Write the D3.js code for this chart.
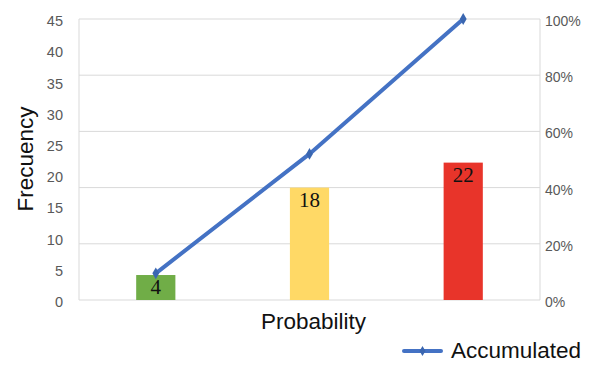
<!DOCTYPE html>
<html>
<head>
<meta charset="utf-8">
<script src="https://cdn.jsdelivr.net/npm/d3@7"></script>
<style>
  body { margin: 0; background: #fff; }
  svg { display: block; font-family: "Liberation Sans", Arial, sans-serif; }
</style>
</head>
<body>
<div id="chart"></div>
<script>
// bars = frequency per probability class, line = accumulated percentage
const categories = ["Low", "Medium", "High"];
const frequency = [4, 18, 22];
const accumulated = [9.5, 52, 100];
const barColors = ["#70ad47", "#ffd966", "#e8342a"];
const leftTicks = [0, 5, 10, 15, 20, 25, 30, 35, 40, 45];
const rightTicks = [0, 20, 40, 60, 80, 100];

var width = 612, height = 370;
var margin = {top: 19, right: 72, bottom: 70, left: 79};

const svg = d3.select("#chart")
    .append("svg")
    .attr("width", width)
    .attr("height", height);

const xScale = d3.scaleBand()
    .domain(categories)
    .range([margin.left, width - margin.right])
    .paddingInner(0.745)
    .paddingOuter(0.372);

const yScale = d3.scaleLinear()
    .domain([0, 45])
    .range([height - margin.bottom, margin.top]);

const pctScale = d3.scaleLinear()
    .domain([0, 100])
    .range([height - margin.bottom, margin.top]);

// gridlines follow the right axis
svg.append("g")
    .selectAll("line")
    .data(rightTicks)
    .enter()
    .append("line")
    .attr("x1", margin.left)
    .attr("x2", width - margin.right)
    .attr("y1", d => pctScale(d))
    .attr("y2", d => pctScale(d))
    .attr("stroke", "#d9d9d9")
    .attr("stroke-width", 1);

// side borders of the plot area
[margin.left, width - margin.right].forEach(function(x) {
    svg.append("line")
        .attr("x1", x).attr("x2", x)
        .attr("y1", margin.top).attr("y2", height - margin.bottom)
        .attr("stroke", "#d9d9d9");
});

// left axis
svg.append("g")
    .attr("transform", `translate(${margin.left - 16}, 2)`)
    .call(d3.axisLeft(yScale).tickValues(leftTicks).tickSize(0).tickPadding(0))
    .call(g => g.select(".domain").remove())
    .selectAll("text")
    .attr("fill", "#595959")
    .style("font-size", "14.5px");

// right axis
svg.append("g")
    .attr("transform", `translate(${width - margin.right + 5}, 2)`)
    .call(d3.axisRight(pctScale).tickValues(rightTicks).tickFormat(d => d + "%").tickSize(0).tickPadding(0))
    .call(g => g.select(".domain").remove())
    .selectAll("text")
    .attr("fill", "#595959")
    .style("font-size", "14px");

// bars
svg.selectAll("rect.bar")
    .data(frequency)
    .enter()
    .append("rect")
    .attr("class", "bar")
    .attr("x", (d, i) => xScale(categories[i]))
    .attr("y", d => yScale(d))
    .attr("width", xScale.bandwidth())
    .attr("height", d => yScale(0) - yScale(d))
    .attr("fill", (d, i) => barColors[i]);

svg.selectAll("text.barLabel")
    .data(frequency)
    .enter()
    .append("text")
    .attr("class", "barLabel")
    .attr("x", (d, i) => xScale(categories[i]) + xScale.bandwidth() / 2)
    .attr("y", d => yScale(d) + 19)
    .attr("text-anchor", "middle")
    .style("font-family", "'Liberation Serif', 'Times New Roman', serif")
    .style("font-size", "21px")
    .attr("fill", "#111")
    .text(d => d);

// accumulated line
var line = d3.line()
    .x((d, i) => xScale(categories[i]) + xScale.bandwidth() / 2)
    .y(d => pctScale(d));

svg.append("path")
    .datum(accumulated)
    .attr("d", line)
    .attr("fill", "none")
    .attr("stroke", "#4472c4")
    .attr("stroke-width", 4)
    .attr("stroke-linecap", "round");

svg.selectAll("path.marker")
    .data(accumulated)
    .enter()
    .append("path")
    .attr("class", "marker")
    .attr("d", d3.symbol().type(d3.symbolDiamond).size(40))
    .attr("transform", (d, i) => `translate(${xScale(categories[i]) + xScale.bandwidth() / 2}, ${pctScale(d)})`)
    .attr("fill", "#3a66b0");

// axis titles
svg.append("text")
    .attr("transform", `translate(33, 159) rotate(-90)`)
    .attr("text-anchor", "middle")
    .style("font-size", "22.5px")
    .attr("fill", "#111")
    .text("Frecuency");

svg.append("text")
    .attr("x", 313.5)
    .attr("y", 329)
    .attr("text-anchor", "middle")
    .style("font-size", "22.5px")
    .attr("fill", "#111")
    .text("Probability");

// legend
svg.append("line")
    .attr("x1", 404).attr("x2", 441)
    .attr("y1", 351).attr("y2", 351)
    .attr("stroke", "#4472c4")
    .attr("stroke-width", 4)
    .attr("stroke-linecap", "round");
svg.append("path")
    .attr("d", d3.symbol().type(d3.symbolDiamond).size(30))
    .attr("transform", "translate(422.5, 351)")
    .attr("fill", "#3a66b0");
svg.append("text")
    .attr("x", 451)
    .attr("y", 358)
    .style("font-size", "22.5px")
    .attr("fill", "#111")
    .text("Accumulated");
</script>
</body>
</html>
